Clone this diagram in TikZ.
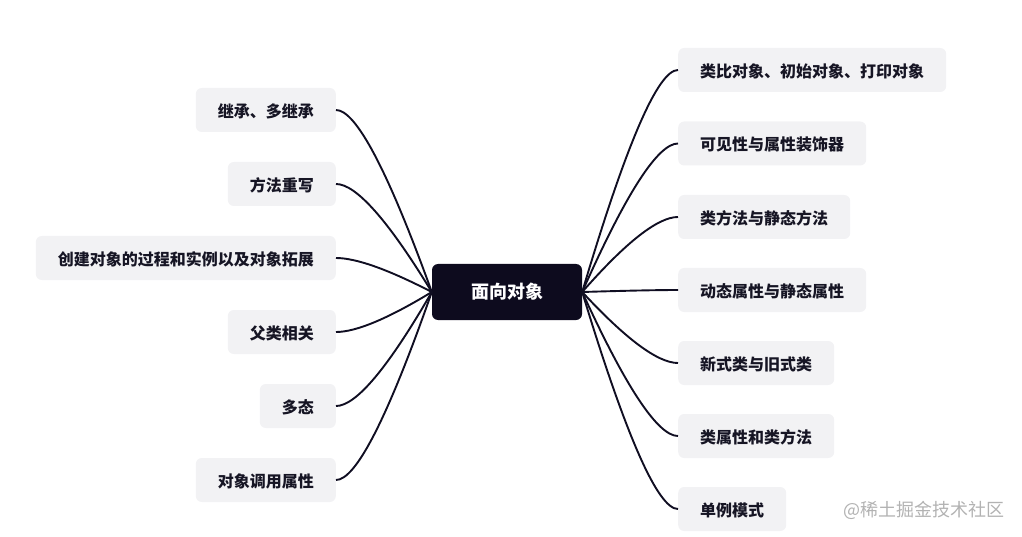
\documentclass[tikz,border=0pt]{standalone}
\usepackage{fontspec}
\setmainfont{Noto Sans CJK SC}
\usetikzlibrary{calc}
\definecolor{leafbg}{RGB}{242,242,244}
\definecolor{leaftxt}{RGB}{22,21,36}
\definecolor{rootbg}{RGB}{13,11,30}
\definecolor{linec}{RGB}{16,14,34}
\definecolor{wmark}{RGB}{178,178,178}
\tikzset{
  leaf/.style={fill=leafbg, text=leaftxt, rounded corners=6pt, minimum height=44pt,
    inner xsep=22pt, inner ysep=0pt, font=\fontsize{16pt}{16pt}\selectfont\bfseries,
    text height=15pt, text depth=0pt},
  leftleaf/.style={leaf, anchor=east},
  rightleaf/.style={leaf, anchor=west},
  root/.style={fill=rootbg, text=white, rounded corners=6pt, minimum width=150pt,
    minimum height=56pt, inner sep=0pt, font=\fontsize{18pt}{18pt}\selectfont\bfseries},
  branch/.style={draw=linec, line width=1.9pt},
}
\newcommand{\leftbranch}[2]{%
  \draw[branch] let \p1=(#1), \p2=(#2) in
    (\p1) .. controls ($(\p1)!2/3!(\x2+30pt,\y2)$) and ($(\p2)!2/3!(\x2+30pt,\y2)$) .. (\p2);}
\newcommand{\rightbranch}[2]{%
  \draw[branch] let \p1=(#1), \p2=(#2) in
    (\p1) .. controls ($(\p1)!2/3!(\x2-30pt,\y2)$) and ($(\p2)!2/3!(\x2-30pt,\y2)$) .. (\p2);}
\begin{document}
\begin{tikzpicture}[x=1pt,y=-1pt]
\useasboundingbox (0,0) rectangle (1022,537);
\node[root] (root) at (507,292) {面向对象};

\node[leftleaf] (l1) at (336,110) {继承、多继承};
\node[leftleaf] (l2) at (336,184) {方法重写};
\node[leftleaf] (l3) at (336,258) {创建对象的过程和实例以及对象拓展};
\node[leftleaf] (l4) at (336,332) {父类相关};
\node[leftleaf] (l5) at (336,406) {多态};
\node[leftleaf] (l6) at (336,480) {对象调用属性};

\node[rightleaf] (r1) at (678,70) {类比对象、初始对象、打印对象};
\node[rightleaf] (r2) at (678,143.5) {可见性与属性装饰器};
\node[rightleaf] (r3) at (678,217) {类方法与静态方法};
\node[rightleaf] (r4) at (678,290) {动态属性与静态属性};
\node[rightleaf] (r5) at (678,363) {新式类与旧式类};
\node[rightleaf] (r6) at (678,436) {类属性和类方法};
\node[rightleaf] (r7) at (678,509) {单例模式};

\foreach \k in {l1,l2,l3,l4,l5,l6} {\leftbranch{root.west}{\k.east}}
\foreach \k in {r1,r2,r3,r4,r5,r6,r7} {\rightbranch{root.east}{\k.west}}

\node[text=wmark, font=\fontsize{18pt}{18pt}\selectfont, anchor=east, inner sep=0pt] (wm) at (1005,510) {@稀土掘金技术社区};
\end{tikzpicture}
\end{document}
